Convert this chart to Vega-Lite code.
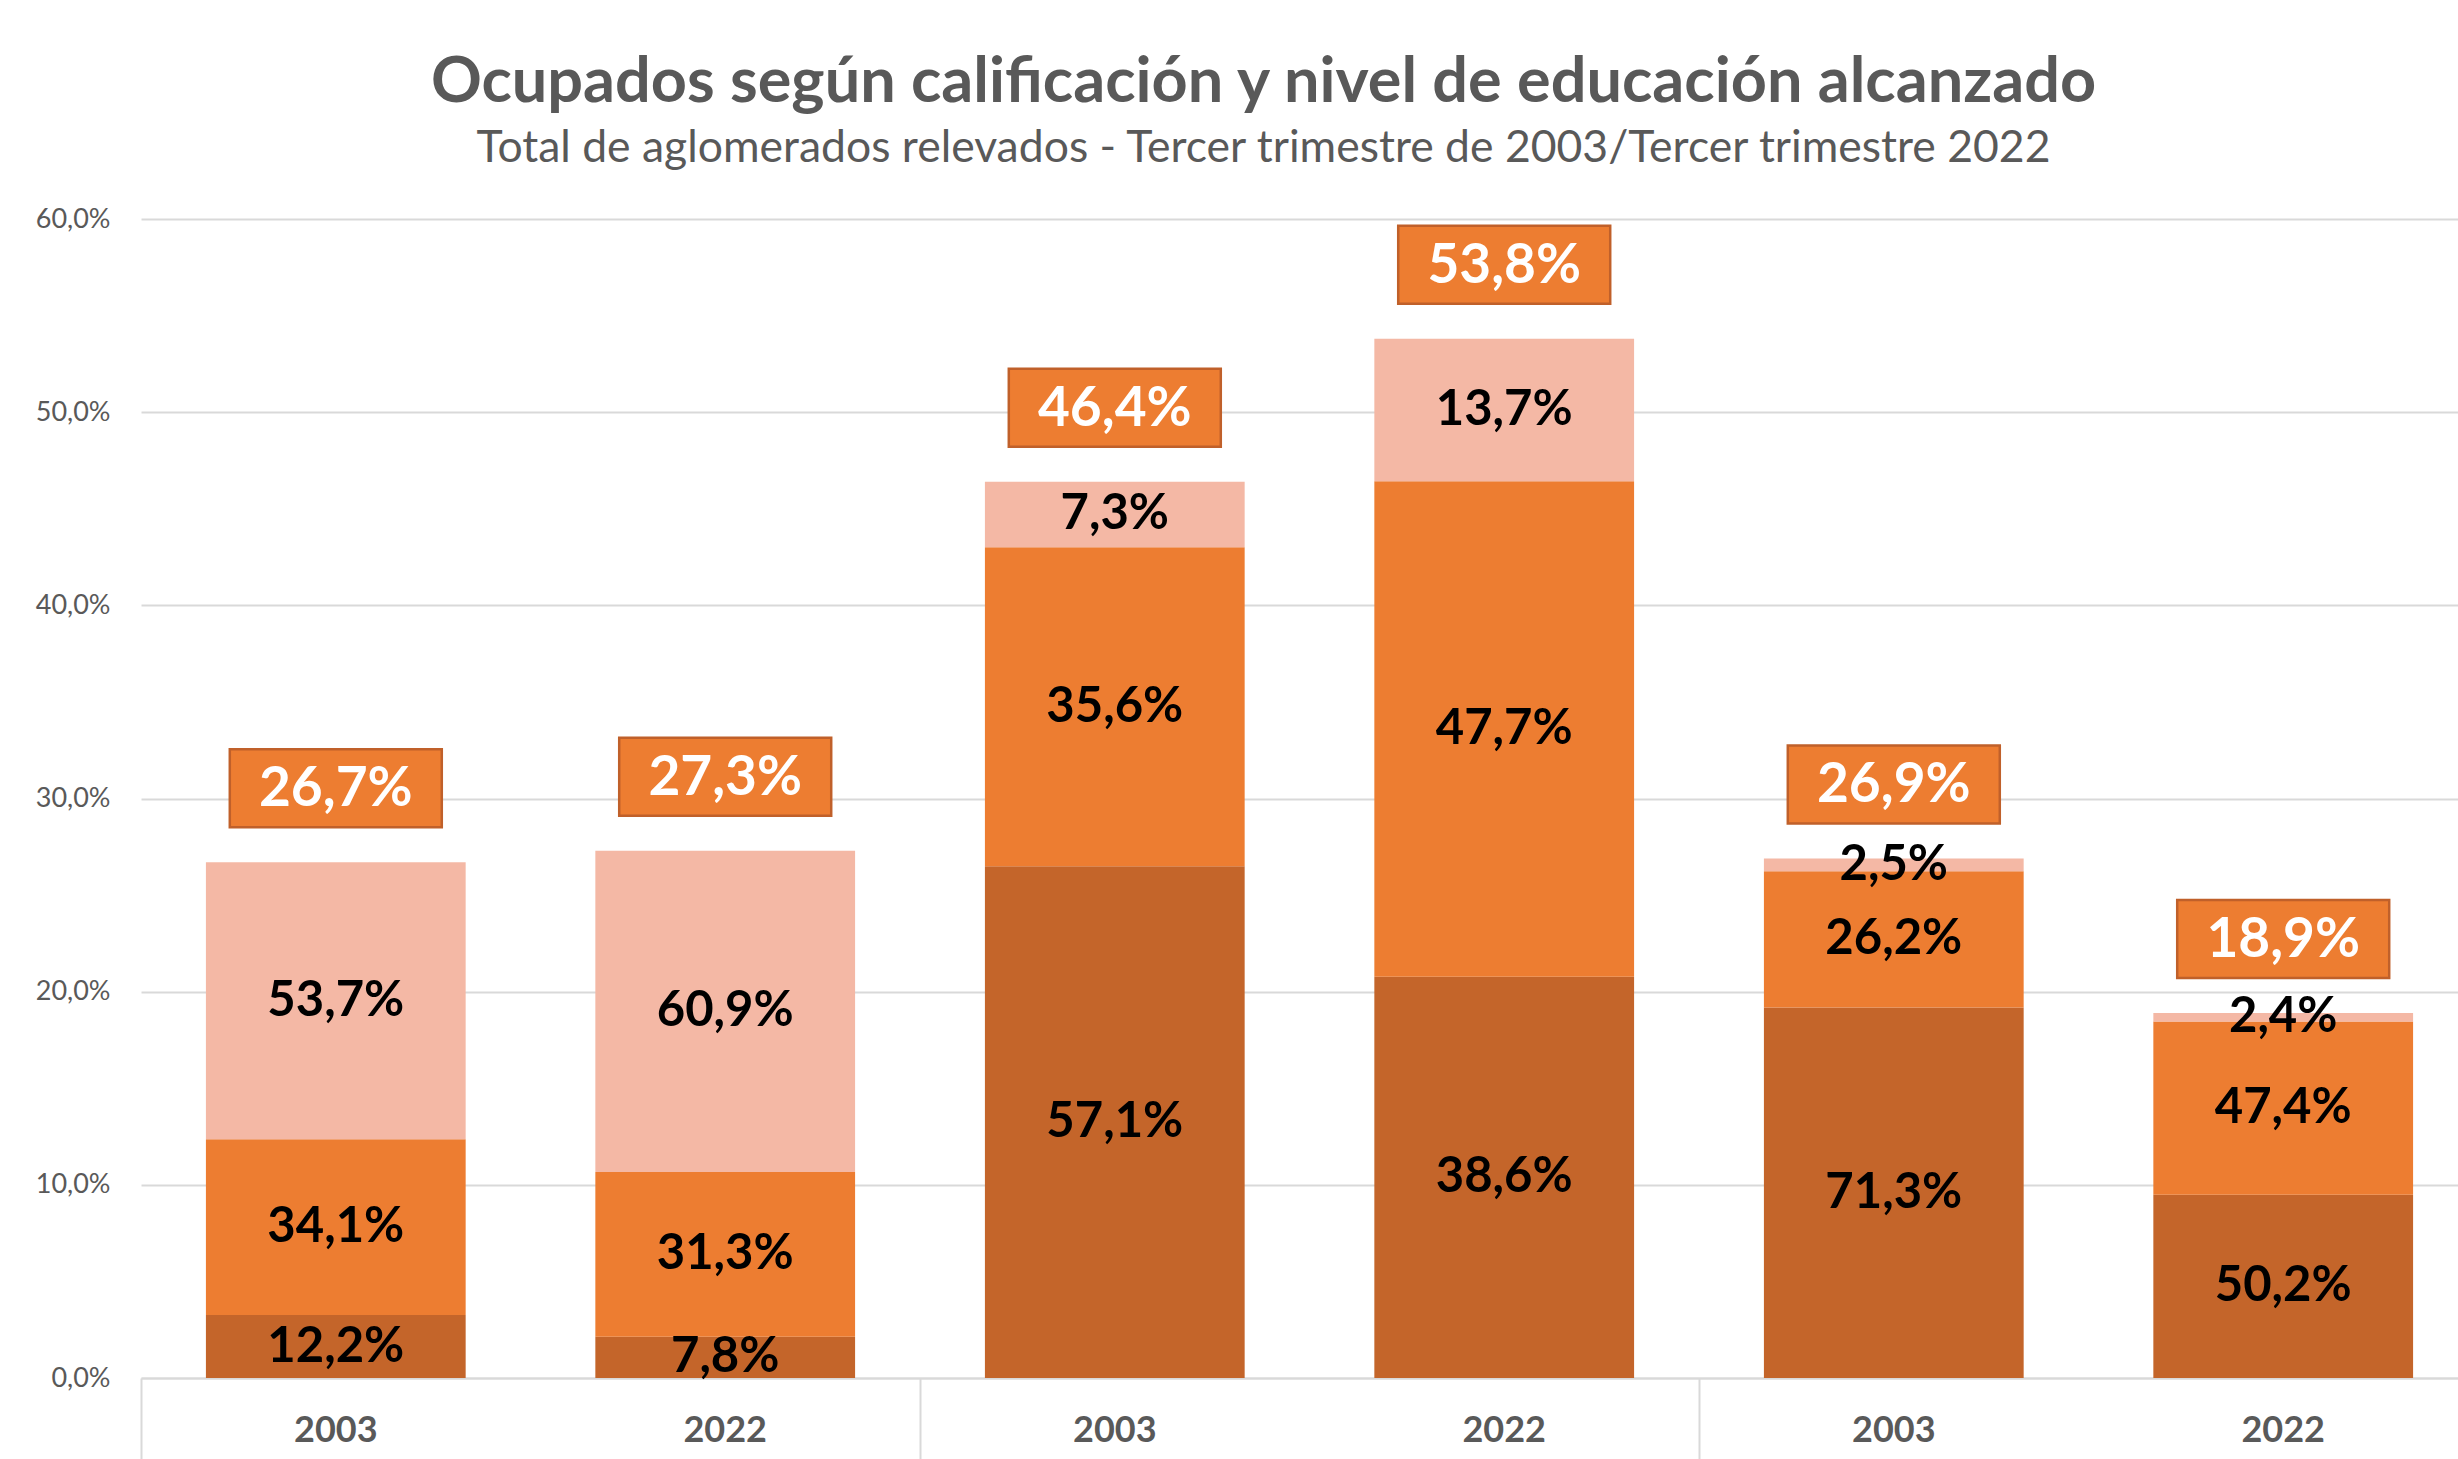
{
  "$schema": "https://vega.github.io/schema/vega-lite/v6.json",
  "autosize": {"type": "none"},
  "width": 2317,
  "height": 1159,
  "padding": {"left": 141, "top": 219, "right": 0, "bottom": 81},
  "background": "white",
  "config": {
    "locale": {"number": {"decimal": ",", "thousands": ".", "grouping": [3], "currency": ["$", ""]}},
    "view": {"stroke": null},
    "font": "Lato"
  },
  "title": {
    "text": "Ocupados según calificación y nivel de educación alcanzado",
    "subtitle": "Total de aglomerados relevados - Tercer trimestre de 2003/Tercer trimestre 2022",
    "anchor": "middle",
    "frame": "group",
    "dx": -36,
    "offset": 35,
    "font": "Lato",
    "fontSize": 63,
    "fontWeight": "bold",
    "color": "#595959",
    "subtitleFont": "Lato",
    "subtitleFontSize": 44.5,
    "subtitleColor": "#595959",
    "subtitleFontWeight": "normal",
    "subtitlePadding": 12
  },
  "datasets": {
    "segmentos": [
      {"calificacion": "Profesional y técnica", "anio": "2003", "nivel": "Hasta secundario incompleto", "orden": 1, "valor": 0.0326, "participacion": 0.122},
      {"calificacion": "Profesional y técnica", "anio": "2003", "nivel": "Secundario completo y superior incompleto", "orden": 2, "valor": 0.0910, "participacion": 0.341},
      {"calificacion": "Profesional y técnica", "anio": "2003", "nivel": "Superior completo", "orden": 3, "valor": 0.1434, "participacion": 0.537},
      {"calificacion": "Profesional y técnica", "anio": "2022", "nivel": "Hasta secundario incompleto", "orden": 1, "valor": 0.0213, "participacion": 0.078},
      {"calificacion": "Profesional y técnica", "anio": "2022", "nivel": "Secundario completo y superior incompleto", "orden": 2, "valor": 0.0854, "participacion": 0.313},
      {"calificacion": "Profesional y técnica", "anio": "2022", "nivel": "Superior completo", "orden": 3, "valor": 0.1663, "participacion": 0.609},
      {"calificacion": "Operativa", "anio": "2003", "nivel": "Hasta secundario incompleto", "orden": 1, "valor": 0.2649, "participacion": 0.571},
      {"calificacion": "Operativa", "anio": "2003", "nivel": "Secundario completo y superior incompleto", "orden": 2, "valor": 0.1652, "participacion": 0.356},
      {"calificacion": "Operativa", "anio": "2003", "nivel": "Superior completo", "orden": 3, "valor": 0.0339, "participacion": 0.073},
      {"calificacion": "Operativa", "anio": "2022", "nivel": "Hasta secundario incompleto", "orden": 1, "valor": 0.2077, "participacion": 0.386},
      {"calificacion": "Operativa", "anio": "2022", "nivel": "Secundario completo y superior incompleto", "orden": 2, "valor": 0.2566, "participacion": 0.477},
      {"calificacion": "Operativa", "anio": "2022", "nivel": "Superior completo", "orden": 3, "valor": 0.0737, "participacion": 0.137},
      {"calificacion": "No calificada", "anio": "2003", "nivel": "Hasta secundario incompleto", "orden": 1, "valor": 0.1918, "participacion": 0.713},
      {"calificacion": "No calificada", "anio": "2003", "nivel": "Secundario completo y superior incompleto", "orden": 2, "valor": 0.0705, "participacion": 0.262},
      {"calificacion": "No calificada", "anio": "2003", "nivel": "Superior completo", "orden": 3, "valor": 0.0067, "participacion": 0.025},
      {"calificacion": "No calificada", "anio": "2022", "nivel": "Hasta secundario incompleto", "orden": 1, "valor": 0.0949, "participacion": 0.502},
      {"calificacion": "No calificada", "anio": "2022", "nivel": "Secundario completo y superior incompleto", "orden": 2, "valor": 0.0896, "participacion": 0.474},
      {"calificacion": "No calificada", "anio": "2022", "nivel": "Superior completo", "orden": 3, "valor": 0.0045, "participacion": 0.024}
    ],
    "totales": [
      {"calificacion": "Profesional y técnica", "anio": "2003", "total": 0.267},
      {"calificacion": "Profesional y técnica", "anio": "2022", "total": 0.273},
      {"calificacion": "Operativa", "anio": "2003", "total": 0.464},
      {"calificacion": "Operativa", "anio": "2022", "total": 0.538},
      {"calificacion": "No calificada", "anio": "2003", "total": 0.269},
      {"calificacion": "No calificada", "anio": "2022", "total": 0.189}
    ]
  },
  "encoding": {
    "x": {
      "field": "calificacion",
      "type": "nominal",
      "sort": ["Profesional y técnica", "Operativa", "No calificada"],
      "scale": {"range": [0, 2337], "paddingInner": 0, "paddingOuter": 0},
      "axis": {
        "title": null,
        "labels": false,
        "domain": true,
        "domainColor": "#D9D9D9",
        "domainWidth": 2,
        "ticks": true,
        "bandPosition": 0,
        "tickSize": 100,
        "tickColor": "#D9D9D9",
        "tickWidth": 2,
        "grid": false
      }
    },
    "xOffset": {
      "field": "anio",
      "type": "nominal",
      "sort": ["2003", "2022"],
      "scale": {"paddingInner": 0.333, "paddingOuter": 0.1667}
    }
  },
  "layer": [
    {
      "data": {"name": "segmentos"},
      "mark": {"type": "bar"},
      "encoding": {
        "y": {
          "field": "valor",
          "type": "quantitative",
          "stack": "zero",
          "scale": {"domain": [0, 0.6], "nice": false, "zero": true},
          "axis": {
            "title": null,
            "format": ".1%",
            "values": [0, 0.1, 0.2, 0.3, 0.4, 0.5, 0.6],
            "domain": false,
            "ticks": false,
            "labelPadding": 31,
            "labelFontSize": 27,
            "labelFont": "Lato",
            "labelColor": "#595959",
            "gridColor": "#D9D9D9",
            "gridWidth": 2
          }
        },
        "color": {
          "field": "nivel",
          "type": "nominal",
          "scale": {
            "domain": ["Hasta secundario incompleto", "Secundario completo y superior incompleto", "Superior completo"],
            "range": ["#C4652A", "#ED7D31", "#F4B8A5"]
          },
          "legend": null
        },
        "order": {"field": "orden", "type": "quantitative"}
      }
    },
    {
      "data": {"name": "segmentos"},
      "mark": {"type": "text", "font": "Lato", "fontWeight": "bold", "fontSize": 49, "color": "#000000", "baseline": "middle"},
      "encoding": {
        "y": {"field": "valor", "type": "quantitative", "stack": "zero", "bandPosition": 0.5},
        "detail": {"field": "nivel"},
        "order": {"field": "orden", "type": "quantitative"},
        "text": {"field": "participacion", "type": "quantitative", "format": ".1%"}
      }
    },
    {
      "data": {"name": "totales"},
      "mark": {"type": "bar", "width": 212, "fill": "#ED7D31", "stroke": "#C0602A", "strokeWidth": 2.5, "yOffset": -113, "y2Offset": -35},
      "encoding": {
        "y": {"field": "total", "type": "quantitative"},
        "y2": {"field": "total"}
      }
    },
    {
      "data": {"name": "totales"},
      "mark": {"type": "text", "font": "Lato", "fontWeight": "bold", "fontSize": 55, "color": "#FFFFFF", "baseline": "middle", "yOffset": -73},
      "encoding": {
        "y": {"field": "total", "type": "quantitative"},
        "text": {"field": "total", "type": "quantitative", "format": ".1%"}
      }
    },
    {
      "data": {"name": "totales"},
      "mark": {"type": "text", "font": "Lato", "fontWeight": "bold", "fontSize": 36, "color": "#595959", "baseline": "middle", "dy": 53},
      "encoding": {
        "y": {"datum": 0, "type": "quantitative"},
        "text": {"field": "anio", "type": "nominal"}
      }
    }
  ]
}
